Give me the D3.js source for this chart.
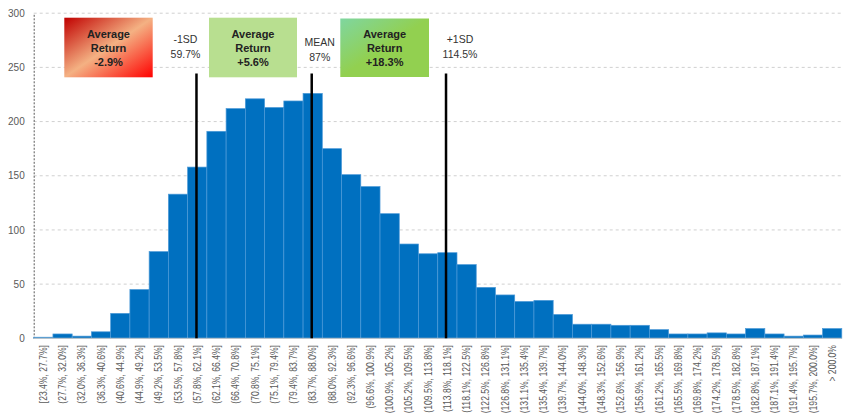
<!DOCTYPE html>
<html><head><meta charset="utf-8">
<script src="https://cdn.jsdelivr.net/npm/d3@7"></script>
<style>
html,body{margin:0;padding:0;background:#fff;}
svg{display:block;font-family:"Liberation Sans",Arial,sans-serif;}
</style></head>
<body><svg id="c" width="843" height="416"></svg>
<script>
const binLabels = ["[23.4%, 27.7%]","(27.7%, 32.0%]","(32.0%, 36.3%]","(36.3%, 40.6%]","(40.6%, 44.9%]","(44.9%, 49.2%]","(49.2%, 53.5%]","(53.5%, 57.8%]","(57.8%, 62.1%]","(62.1%, 66.4%]","(66.4%, 70.8%]","(70.8%, 75.1%]","(75.1%, 79.4%]","(79.4%, 83.7%]","(83.7%, 88.0%]","(88.0%, 92.3%]","(92.3%, 96.6%]","(96.6%, 100.9%]","(100.9%, 105.2%]","(105.2%, 109.5%]","(109.5%, 113.8%]","(113.8%, 118.1%]","(118.1%, 122.5%]","(122.5%, 126.8%]","(126.8%, 131.1%]","(131.1%, 135.4%]","(135.4%, 139.7%]","(139.7%, 144.0%]","(144.0%, 148.3%]","(148.3%, 152.6%]","(152.6%, 156.9%]","(156.9%, 161.2%]","(161.2%, 165.5%]","(165.5%, 169.8%]","(169.8%, 174.2%]","(174.2%, 178.5%]","(178.5%, 182.8%]","(182.8%, 187.1%]","(187.1%, 191.4%]","(191.4%, 195.7%]","(195.7%, 200.0%]","> 200.0%"];
const counts = [1,4,2,6,23,45,80,133,158,191,212,221,213,219,226,175,151,140,115,87,78,79,68,47,40,34,35,22,13,13,12,12,8,4,4,5,4,9,4,2,3,9];
const yTicks = [0,50,100,150,200,250,300];
// reference lines: label, value text, position expressed as fractional bin index
const markerNames = ["-1SD","MEAN","+1SD"];
const markerValues = ["59.7%","87%","114.5%"];
const markerBinPos = [8.46,14.45,21.43];
const boxLines = [["Average","Return","-2.9%"],["Average","Return","+5.6%"],["Average","Return","+18.3%"]];

const svg = d3.select("#c");
const L = 33.7, R = 841.8, T = 13.2, B = 338.3;
const x = d3.scaleBand().domain(d3.range(counts.length)).range([L,R]).padding(0);
const y = d3.scaleLinear().domain([0,300]).range([B,T]);
const xPos = d3.scaleLinear().domain([0,counts.length]).range([L,R]);

const defs = svg.append("defs");
const g1 = defs.append("linearGradient").attr("id","gRed").attr("x1","0").attr("y1","0").attr("x2","1").attr("y2","1");
g1.append("stop").attr("offset","0").attr("stop-color","#c00000");
g1.append("stop").attr("offset","0.5").attr("stop-color","#f4b183");
g1.append("stop").attr("offset","1").attr("stop-color","#ff0000");
const g3 = defs.append("linearGradient").attr("id","gGreen").attr("x1","0").attr("y1","0").attr("x2","1").attr("y2","1");
g3.append("stop").attr("offset","0").attr("stop-color","#7fd6a0");
g3.append("stop").attr("offset","0.5").attr("stop-color","#92d050");
g3.append("stop").attr("offset","1").attr("stop-color","#92d050");

// gridlines
svg.append("g").selectAll("line").data(yTicks.filter(d=>d>0)).join("line")
  .attr("x1",L).attr("x2",R).attr("y1",d=>y(d)).attr("y2",d=>y(d))
  .attr("stroke","#d0d0d0").attr("stroke-width",1).attr("stroke-dasharray","3,3");

// y axis
const ya = svg.append("g").attr("transform",`translate(${L},0)`).call(d3.axisLeft(y).tickValues(yTicks).tickSize(0).tickPadding(9));
ya.select(".domain").attr("stroke","#595959").attr("stroke-dasharray","2,1.5");
ya.selectAll("text").attr("fill","#595959").style("font-size","10px").style("font-family","Liberation Sans, Arial, sans-serif");

const boxes = [
  {x0:64.3,x1:152.7,y0:17.7,y1:77.3,fill:"url(#gRed)"},
  {x0:209,x1:297,y0:17.7,y1:77.3,fill:"#b8df90"},
  {x0:340.3,x1:429,y0:18.5,y1:77,fill:"url(#gGreen)"}
];

// bars
svg.append("g").selectAll("rect").data(counts).join("rect")
  .attr("x",(d,i)=>x(i)).attr("width",x.bandwidth())
  .attr("y",d=>y(d)).attr("height",d=>B-y(d))
  .attr("fill","#0070c0").attr("stroke","#4d9ad8").attr("stroke-width",0.7);

// x baseline
svg.append("line").attr("x1",L).attr("x2",R).attr("y1",B).attr("y2",B).attr("stroke","#c8c8c8");

// x labels
svg.append("g").selectAll("text").data(binLabels).join("text")
  .attr("transform",(d,i)=>`translate(${x(i)+x.bandwidth()/2+3.6},345) rotate(-90) scale(0.86,1)`)
  .attr("text-anchor","end").attr("fill","#595959").style("font-size","10px").text(d=>d);

// boxes
const bg = svg.append("g").selectAll("g").data(boxes).join("g");
bg.append("rect").attr("x",d=>d.x0).attr("y",d=>d.y0).attr("width",d=>d.x1-d.x0).attr("height",d=>d.y1-d.y0).attr("fill",d=>d.fill);
bg.each(function(d,i){
  const t = d3.select(this).append("text").attr("text-anchor","middle").attr("fill","#222")
    .style("font-size","11px").style("font-weight","bold");
  boxLines[i].forEach((s,k)=>t.append("tspan").attr("x",(d.x0+d.x1)/2).attr("y",(d.y0+d.y1)/2-10+k*14).text(s));
});

// markers
const mg = svg.append("g").selectAll("g").data(markerBinPos).join("g");
mg.append("line").attr("x1",d=>xPos(d)).attr("x2",d=>xPos(d)).attr("y1",73.5).attr("y2",B)
  .attr("stroke","#000").attr("stroke-width",2.5);
mg.each(function(d,i){
  const t = d3.select(this).append("text").attr("text-anchor","middle").attr("fill","#333").style("font-size","10.5px");
  const cx = xPos(d) + [-11,8,14][i];
  const y0 = [43,46,43][i];
  t.append("tspan").attr("x",cx).attr("y",y0).text(markerNames[i]);
  t.append("tspan").attr("x",cx).attr("y",y0+15).text(markerValues[i]);
});
</script></body></html>
